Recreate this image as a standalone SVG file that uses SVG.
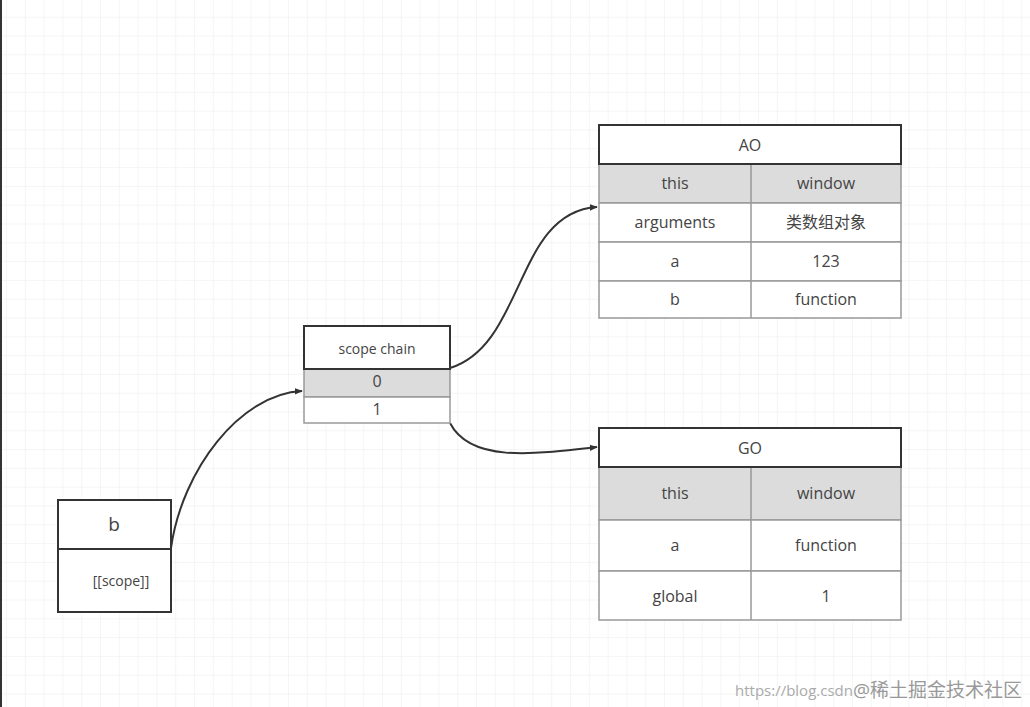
<svg xmlns="http://www.w3.org/2000/svg" width="1030" height="707" viewBox="0 0 1030 707">
<defs>
<pattern id="g" x="6" y="16.7" width="18.8" height="18.8" patternUnits="userSpaceOnUse"><path d="M0 0H18.8M0 0V18.8" stroke="#ececec" stroke-width="1" fill="none"/></pattern>
<marker id="ar" viewBox="0 0 10 10" refX="9" refY="5" markerWidth="8" markerHeight="8" markerUnits="userSpaceOnUse" orient="auto"><path d="M0 1L10 5L0 9z" fill="#333"/></marker>
</defs>
<style>
text{font-family:"Open Sans","Noto Sans","Noto Sans CJK SC",sans-serif;fill:#444;text-anchor:middle;dominant-baseline:central}
.h{fill:#fff;stroke:#333;stroke-width:2}
.r{fill:#fff;stroke:#999;stroke-width:1.5}
.gr{fill:#dcdcdc;stroke:#999;stroke-width:1.5}
.c{fill:none;stroke:#333;stroke-width:2;marker-end:url(#ar)}
</style>
<rect width="1030" height="707" fill="#fff"/>
<rect width="1030" height="707" fill="url(#g)"/>
<rect x="0" y="0" width="2" height="707" fill="#333"/>
<g id="connectors">
<path class="c" d="M171 548C182 470 240 394 302 391"/>
<path class="c" d="M450 368C525 345 515 212 597 207"/>
<path class="c" d="M450 423C470 462 530 455 597 447"/>
</g>
<g id="AO">
<rect class="gr" x="599" y="164" width="302" height="39"/>
<rect class="r" x="599" y="203" width="302" height="39"/>
<rect class="r" x="599" y="242" width="302" height="39"/>
<rect class="r" x="599" y="281" width="302" height="37"/>
<line x1="751" y1="164" x2="751" y2="318" stroke="#999" stroke-width="1.5"/>
<rect class="h" x="599" y="125" width="302" height="39"/>
<text x="750" y="145" font-size="16">AO</text>
<text x="675" y="183" font-size="16">this</text><text x="826" y="183" font-size="16">window</text>
<text x="675" y="222" font-size="16">arguments</text><text x="826" y="222" font-size="16">类数组对象</text>
<text x="675" y="261" font-size="16">a</text><text x="826" y="261" font-size="16">123</text>
<text x="675" y="299" font-size="16">b</text><text x="826" y="299" font-size="16">function</text>
</g>
<g id="GO">
<rect class="gr" x="599" y="467" width="302" height="53"/>
<rect class="r" x="599" y="520" width="302" height="51"/>
<rect class="r" x="599" y="571" width="302" height="49"/>
<line x1="751" y1="467" x2="751" y2="620" stroke="#999" stroke-width="1.5"/>
<rect class="h" x="599" y="428" width="302" height="39"/>
<text x="750" y="448" font-size="16">GO</text>
<text x="675" y="493" font-size="16">this</text><text x="826" y="493" font-size="16">window</text>
<text x="675" y="545" font-size="16">a</text><text x="826" y="545" font-size="16">function</text>
<text x="675" y="596" font-size="16">global</text><text x="826" y="596" font-size="16">1</text>
</g>
<g id="scopechain">
<rect class="gr" x="304" y="369" width="146" height="28"/>
<rect class="r" x="304" y="397" width="146" height="26"/>
<rect class="h" x="304" y="326" width="146" height="43"/>
<text x="377" y="348" font-size="14">scope chain</text>
<text x="377" y="381" font-size="16">0</text>
<text x="377" y="409" font-size="16">1</text>
</g>
<g id="b">
<rect x="58" y="549" width="113" height="63" fill="#fff" stroke="#333" stroke-width="2"/>
<rect class="h" x="58" y="500" width="113" height="49"/>
<text x="114" y="524" font-size="19">b</text>
<text x="121" y="580" font-size="14">[[scope]]</text>
</g>
<text x="1022" y="690" font-size="15" style="text-anchor:end;fill:#aaa">https://blog.csdn<tspan font-size="19" fill="#999">@稀土掘金技术社区</tspan></text>
</svg>
